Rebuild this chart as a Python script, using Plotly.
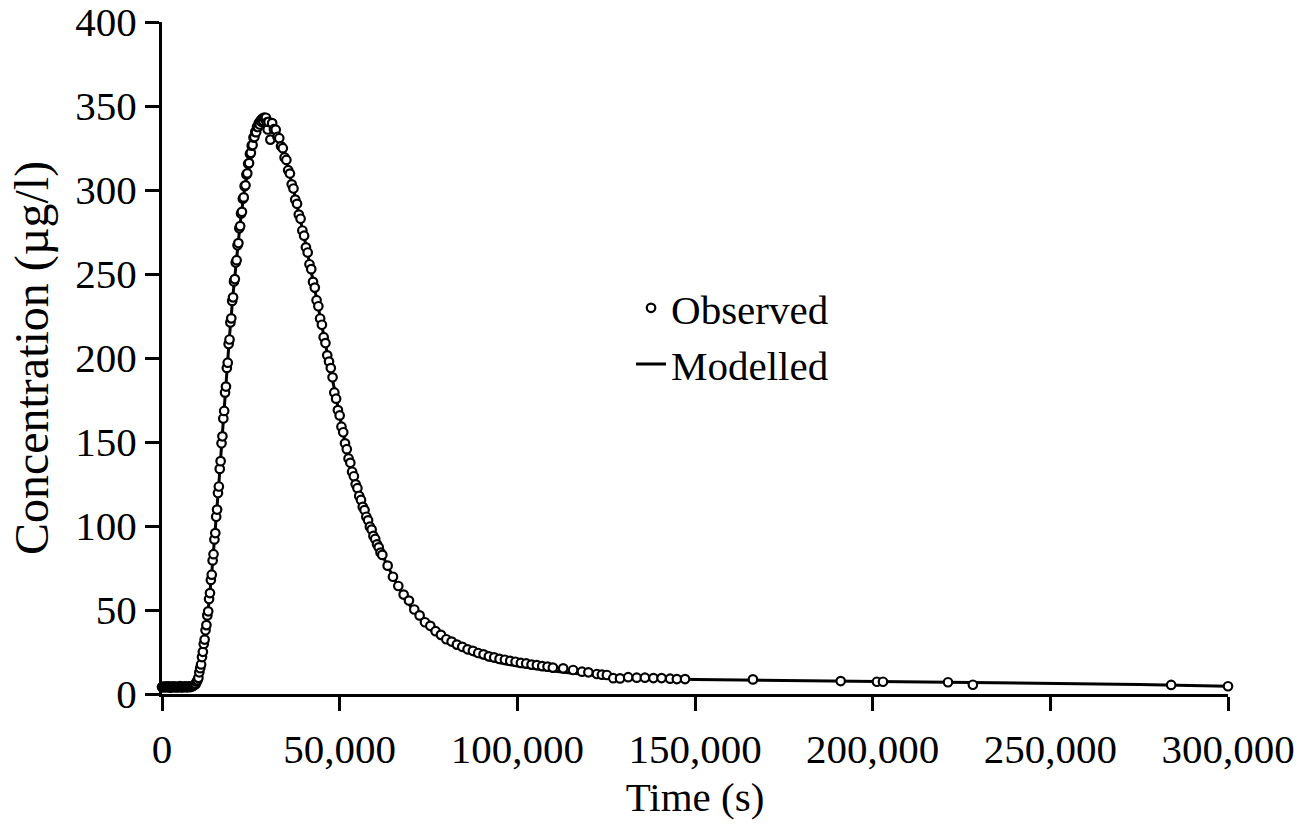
import plotly.graph_objects as go

# Observed tracer concentrations (time in s, concentration in µg/l)
obs_time = [
    0, 300, 600, 900, 1200, 1500, 1800, 2100, 2400, 2700,
    3000, 3300, 3600, 3900, 4200, 4500, 4800, 5100, 5400, 5700,
    6000, 6300, 6600, 6900, 7200, 7500, 7800, 8100, 8400, 8700,
    9000, 9250, 9500, 9750, 10000, 10250, 10500, 10750, 11000, 11250,
    11500, 11750, 12000, 12250, 12500, 12750, 13000, 13250, 13500, 13750,
    14000, 14250, 14500, 14750, 15000, 15250, 15500, 15750, 16000, 16250,
    16500, 16750, 17000, 17250, 17500, 17750, 18000, 18250, 18500, 18750,
    19000, 19250, 19500, 19750, 20000, 20250, 20500, 20750, 21000, 21250,
    21500, 21750, 22000, 22250, 22500, 22750, 23000, 23250, 23500, 23750,
    24000, 24250, 24500, 24750, 25000, 25250, 25500, 25750, 26000, 26250,
    26500, 26750, 27000, 27250, 27500, 27750, 28000, 28250, 28500, 28750,
    29000, 29250, 29500, 29750,
    30000, 30500, 31000, 31500, 32000, 32500, 33000, 33500, 34000, 34500,
    35000, 35500, 36000, 36500, 37000, 37500, 38000, 38500, 39000, 39500,
    40000, 40500, 41000, 41500, 42000, 42500, 43000, 43500, 44000, 44500,
    45000, 45500, 46000, 46500, 47000, 47500, 48000, 48500, 49000, 49500,
    50000, 50500, 51000, 51500, 52000, 52500, 53000, 53500, 54000, 54500,
    55000, 55500, 56000, 56500, 57000, 57500, 58000, 58500, 59000, 59500,
    60000, 60500, 61000, 61500, 62000,
    63500, 65000, 66500, 68000, 69500, 71000, 72500, 74000, 75500, 77000,
    78500, 80000, 81500, 83000, 84500, 86000, 87500, 89000, 90500, 92000,
    93500, 95000, 96500, 98000, 99500, 101000, 102500, 104000, 105500, 107000,
    108500, 110000,
    112900, 115700, 118200, 120000, 122400, 123800, 125200, 127000, 128900, 131200,
    133600, 135900, 138300, 140600, 143000, 144900, 147200,
    166300, 191000, 201200, 202900, 221200, 228200, 284000, 300000,
]
obs_conc = [
    4.1, 4.4, 3.9, 4.3, 4.6, 4.0, 4.2, 4.5, 3.8, 4.3,
    4.1, 4.6, 4.2, 3.9, 4.4, 4.0, 4.3, 4.7, 4.1, 3.9,
    4.4, 4.2, 4.5, 4.0, 4.3, 4.6, 4.1, 4.4, 4.5, 4.8,
    5.2, 5.6, 6.0, 7.3, 8.2, 9.6, 12.9, 15.4, 17.6, 22.0,
    25.1, 29.8, 32.4, 37.9, 41.0, 46.8, 49.2, 56.5, 60.1, 67.9,
    71.0, 79.5, 83.2, 92.0, 95.8, 105.5, 109.8, 119.6, 123.5, 134.0,
    138.6, 149.2, 153.4, 164.0, 168.5, 179.4, 183.0, 194.1, 197.2, 208.3,
    211.0, 221.2, 223.6, 234.0, 236.1, 245.6, 247.0, 256.8, 258.2, 267.1,
    268.4, 277.2, 278.5, 286.0, 287.0, 294.8, 295.6, 302.3, 302.8, 309.2,
    309.9, 315.6, 316.0, 321.5, 322.1, 326.4, 326.8, 331.2, 331.5, 334.6,
    334.4, 337.6, 337.5, 339.8, 339.0, 341.4, 340.6, 342.5, 341.0, 343.1,
    342.4, 343.0, 340.2, 336.0,
    340.5, 330.0, 339.8, 336.2, 335.9, 331.6, 330.8, 326.0, 324.9, 319.4,
    317.9, 311.8, 309.8, 303.4, 300.9, 294.3, 291.8, 285.4, 282.9, 275.9,
    272.8, 265.9, 262.8, 255.8, 252.9, 245.3, 241.9, 234.4, 230.8, 223.5,
    219.8, 212.4, 208.9, 201.6, 197.9, 194.0, 188.5, 179.5, 175.8, 169.0,
    165.8, 159.1, 155.8, 149.2, 145.7, 140.2, 137.6, 132.3, 129.6, 124.8,
    122.5, 117.9, 115.5, 111.4, 109.5, 105.5, 103.4, 99.6, 97.9, 94.1,
    92.3, 89.1, 87.3, 84.2, 82.8,
    76.4, 69.8, 64.3, 59.2, 55.6, 50.3, 46.8, 42.7, 40.6, 37.4,
    35.2, 32.6, 31.2, 29.4, 28.1, 26.6, 25.7, 24.4, 23.6, 22.4,
    21.8, 20.9, 20.4, 19.7, 19.2, 18.5, 18.2, 17.5, 17.2, 16.6,
    16.3, 15.7,
    15.3, 14.3, 13.3, 12.9, 11.9, 11.5, 11.3, 9.4, 9.3, 10.0,
    9.7, 9.7, 9.5, 9.5, 9.1, 8.9, 8.9,
    8.7, 7.7, 7.3, 7.3, 7.0, 5.5, 5.4, 4.6,
]

# Modelled breakthrough curve
model_time = [
    0, 2000, 4000, 6000, 8000, 9000, 10000, 11000, 12000, 13000,
    14000, 15000, 16000, 17000, 18000, 19000, 20000, 21000, 22000, 23000,
    24000, 25000, 26000, 27000, 28000, 29000, 30000, 31000, 32000, 33000,
    34000, 35000, 36000, 37000, 38000, 39000, 40000, 41000, 42000, 43000,
    44000, 45000, 46000, 47000, 48000, 49000, 50000, 51000, 52000, 53000,
    54000, 55000, 56000, 57000, 58000, 59000, 60000, 61000, 62000, 64000,
    66000, 68000, 70000, 72000, 74000, 76000, 78000, 80000, 84000, 88000,
    92000, 96000, 100000, 105000, 110000, 115000, 120000, 125000, 130000, 140000,
    150000, 175000, 200000, 225000, 250000, 275000, 300000,
]
model_conc = [
    4.2, 4.2, 4.2, 4.2, 4.3, 5.0, 8.0, 18.0, 33.0, 50.0,
    72.0, 97.0, 125.0, 155.0, 185.0, 213.0, 238.0, 260.0, 280.0, 297.0,
    311.0, 323.0, 332.0, 338.0, 341.0, 342.0, 341.0, 339.0, 335.0, 330.0,
    324.0, 317.0, 309.0, 300.0, 291.0, 282.0, 272.0, 262.0, 252.0, 241.0,
    230.0, 219.0, 208.0, 197.0, 186.0, 175.0, 165.0, 155.0, 145.0, 137.0,
    129.0, 122.0, 115.0, 109.0, 103.0, 97.5, 92.0, 87.0, 82.5, 74.0,
    66.0, 58.5, 52.0, 46.5, 41.5, 37.5, 34.0, 31.0, 26.5, 23.0,
    20.3, 18.2, 16.6, 15.0, 13.7, 12.5, 11.4, 10.4, 9.8, 9.1,
    8.6, 8.0, 7.5, 6.9, 6.3, 5.7, 4.6,
]

x_ticks = [0, 50000, 100000, 150000, 200000, 250000, 300000]
y_ticks = [0, 50, 100, 150, 200, 250, 300, 350, 400]

FONT = "Liberation Serif, Times New Roman, serif"
FS = 41

fig = go.Figure()

fig.add_trace(go.Scatter(
    x=model_time, y=model_conc,
    mode="lines",
    name="Modelled",
    line=dict(color="black", width=3),
    legendrank=2,
    cliponaxis=False,
))

fig.add_trace(go.Scatter(
    x=obs_time, y=obs_conc,
    mode="markers",
    name="Observed",
    marker=dict(symbol="circle", size=8.5, color="white",
                line=dict(color="black", width=2.2)),
    legendrank=1,
    cliponaxis=False,
))

axis_common = dict(
    showgrid=False,
    zeroline=False,
    showline=True,
    linecolor="black",
    linewidth=3,
    ticks="outside",
    ticklen=14,
    tickwidth=3,
    tickcolor="black",
    ticklabeloverflow="allow",
    tickfont=dict(family=FONT, size=FS, color="black"),
)

fig.update_xaxes(
    range=[0, 300000],
    tickvals=x_ticks,
    ticktext=[f"{v:,}" for v in x_ticks],
    ticklabelstandoff=3,
    title=dict(text="Time (s)", font=dict(family=FONT, size=FS, color="black"), standoff=12),
    **axis_common,
)
fig.update_yaxes(
    range=[0, 400],
    tickvals=y_ticks,
    title=dict(text="Concentration (µg/l)", font=dict(family=FONT, size=48, color="black"), standoff=12),
    **axis_common,
)

fig.update_layout(
    width=1310,
    height=834,
    margin=dict(l=162, r=82, t=22, b=140, autoexpand=False),
    paper_bgcolor="white",
    plot_bgcolor="white",
    showlegend=True,
    legend=dict(
        x=0.44, y=0.624, xanchor="left", yanchor="top",
        font=dict(family=FONT, size=FS, color="black"),
        bgcolor="rgba(0,0,0,0)",
        tracegroupgap=0,
        itemwidth=30,
    ),
)

fig.write_html("out.html")
